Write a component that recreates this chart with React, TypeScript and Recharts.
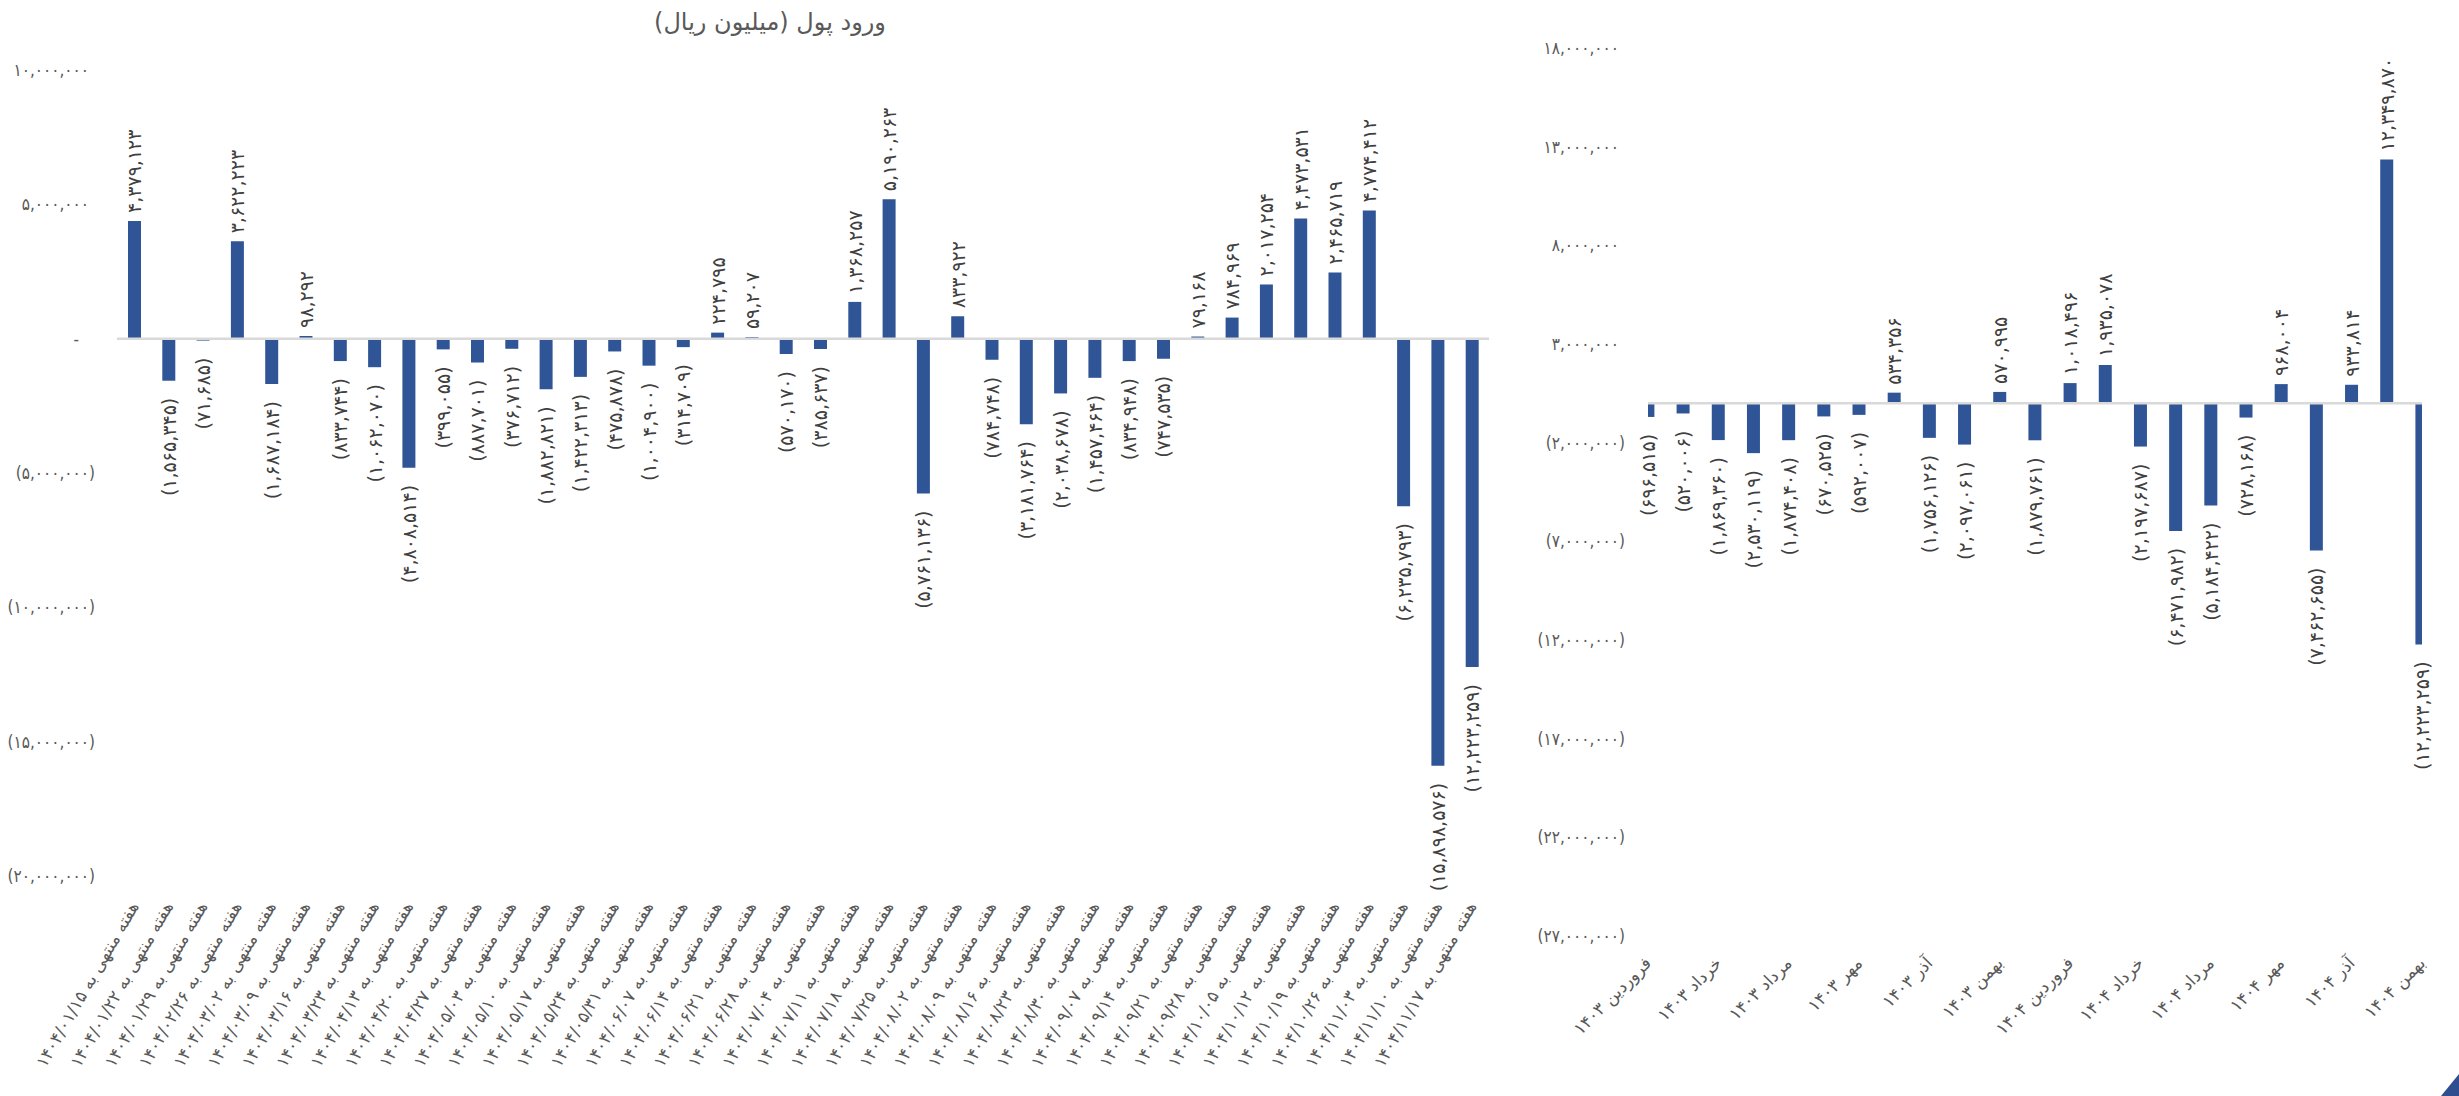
import React from 'react';
import { BarChart, Bar, XAxis, YAxis, LabelList, ReferenceLine } from 'recharts';

// weekly money inflow (million rials), week ending dates
const weekEnds = [
  '1404/01/15', '1404/01/22', '1404/01/29', '1404/02/26', '1404/03/02', '1404/03/09', '1404/03/16', '1404/03/23',
  '1404/04/13', '1404/04/20', '1404/04/27', '1404/05/03', '1404/05/10', '1404/05/17', '1404/05/24', '1404/05/31',
  '1404/06/07', '1404/06/14', '1404/06/21', '1404/06/28', '1404/07/04', '1404/07/11', '1404/07/18', '1404/07/25',
  '1404/08/02', '1404/08/09', '1404/08/16', '1404/08/23', '1404/08/30', '1404/09/07', '1404/09/14', '1404/09/21',
  '1404/09/28', '1404/10/05', '1404/10/12', '1404/10/19', '1404/10/26', '1404/11/03', '1404/11/10', '1404/11/17',
];
const weeklyInflow = [
  4379123, -1565345, -71685, 3622223, -1687184, 98292, -833744, -1062070,
  -4808514, -399055, -887701, -376712, -1882821, -1422313, -475878, -1004900,
  -314709, 224795, 59207, -570170, -385637, 1368257, 5190263, -5761136,
  833922, -784748, -3181764, -2038678, -1457464, -834948, -747535, 79168,
  784969, 2017254, 4473531, 2465719, 4774412, -6235793, -15898576, -12223259,
];
const weeklyTicks = [-20000000, -15000000, -10000000, -5000000, 0, 5000000, 10000000];

// monthly money inflow
const months = [
  'فروردین 1403', 'اردیبهشت 1403', 'خرداد 1403', 'تیر 1403', 'مرداد 1403', 'شهریور 1403', 'مهر 1403', 'آبان 1403',
  'آذر 1403', 'دی 1403', 'بهمن 1403', 'اسفند 1403', 'فروردین 1404', 'اردیبهشت 1404', 'خرداد 1404', 'تیر 1404',
  'مرداد 1404', 'شهریور 1404', 'مهر 1404', 'آبان 1404', 'آذر 1404', 'دی 1404', 'بهمن 1404',
];
const monthlyInflow = [
  -696515, -520006, -1869360, -2530119, -1874408, -670525, -592007, 534356,
  -1756126, -2097061, 570995, -1879761, 1018496, 1935078, -2197687, -6471982,
  -5184422, -728168, 968004, -7462655, 933814, 12349870, -12223259,
];
const monthlyTicks = [-27000000, -22000000, -17000000, -12000000, -7000000, -2000000, 3000000, 8000000, 13000000, 18000000];
const monthTickIdx = [0, 2, 4, 6, 8, 10, 12, 14, 16, 18, 20, 22];

const BLUE = '#2F5597';
const FONT = '"DejaVu Sans", sans-serif';
const NARROW = '"DejaVu Sans Condensed", "DejaVu Sans", sans-serif';

const fa = (s: string) => s.replace(/[0-9]/g, (d) => String.fromCharCode(0x06f0 + Number(d)));
const fmt = (v: number) => {
  if (v === 0) return '-';
  const s = fa(Math.abs(v).toLocaleString('en-US'));
  return v < 0 ? `(${s})` : s;
};

const weekData = weekEnds.map((d, i) => ({ label: 'هفته منتهی به ' + fa(d), value: weeklyInflow[i] }));
const monthData = months.map((m, i) => ({ idx: i, label: fa(m), value: monthlyInflow[i] }));

const YTick = ({ x, y, payload }: any) => {
  const v = payload.value;
  const dx = v > 0 ? -6 : v === 0 ? -16 : 0;
  return (
    <text x={x + dx} y={y} textAnchor="end" dominantBaseline="central" fontSize={17} fill="#595959" fontFamily={NARROW}>
      {fmt(v)}
    </text>
  );
};

const makeXTick = (angle: number, getLabel: (v: any) => string) => ({ x, y, payload }: any) => (
  <text
    x={x}
    y={y}
    transform={`rotate(${angle} ${x} ${y})`}
    textAnchor="end"
    dominantBaseline="central"
    fontSize={17}
    fill="#595959"
    fontFamily={FONT}
  >
    {getLabel(payload.value)}
  </text>
);

const WeekTick = makeXTick(-60, (v) => v);
const MonthTick = makeXTick(-45, (v) => monthData[v]?.label ?? '');

const ValueLabel = (props: any) => {
  const { x, y, width, height, value } = props;
  const cx = Number(x) + Number(width) / 2;
  const top = Math.min(Number(y), Number(y) + Number(height));
  const bottom = Math.max(Number(y), Number(y) + Number(height));
  const pos = value >= 0;
  const ay = pos ? top - 8 : bottom + 17;
  return (
    <text
      x={cx}
      y={ay}
      transform={`rotate(-90 ${cx} ${ay})`}
      textAnchor={pos ? 'start' : 'end'}
      dominantBaseline="central"
      fontSize={19}
      fill="#404040"
      fontFamily={FONT}
    >
      {fmt(value)}
    </text>
  );
};

export default function App() {
  return (
    <div style={{ position: 'absolute', left: 0, top: 0, width: 2459, height: 1096, background: '#fff', overflow: 'hidden' }}>
      <div
        style={{
          position: 'absolute', left: 20, top: 8, width: 1500, textAlign: 'center',
          direction: 'rtl', fontSize: 24, color: '#595959', fontFamily: FONT,
        }}
      >
        ورود پول (میلیون ریال)
      </div>

      <div style={{ position: 'absolute', left: 0, top: 0 }}>
        <BarChart width={1500} height={1096} data={weekData} margin={{ top: 70, right: 11, bottom: 0, left: 0 }} barSize={13}>
          <XAxis dataKey="label" height={220} interval={0} tickLine={false} axisLine={false} tickSize={0} tickMargin={27} tick={<WeekTick />} />
          <YAxis
            width={117}
            domain={[-20000000, 10000000]}
            ticks={weeklyTicks}
            interval={0}
            tickLine={false}
            axisLine={false}
            tickSize={0}
            tickMargin={22}
            tick={<YTick />}
          />
          <Bar dataKey="value" fill={BLUE} isAnimationActive={false}>
            <LabelList dataKey="value" content={<ValueLabel />} />
          </Bar>
          <ReferenceLine y={0} stroke="#D9D9D9" strokeWidth={2.5} />
        </BarChart>
      </div>

      <div style={{ position: 'absolute', left: 1500, top: 0 }}>
        <BarChart width={959} height={1096} data={monthData} margin={{ top: 48, right: 37, bottom: 0, left: 0 }} barSize={13}>
          <XAxis
            type="number"
            dataKey="idx"
            domain={[0, 22]}
            ticks={monthTickIdx}
            allowDataOverflow
            interval={0}
            height={160}
            tickLine={false}
            axisLine={false}
            tickSize={0}
            tickMargin={24}
            tick={<MonthTick />}
          />
          <YAxis
            width={148}
            domain={[-27000000, 18000000]}
            ticks={monthlyTicks}
            interval={0}
            tickLine={false}
            axisLine={false}
            tickSize={0}
            tickMargin={23}
            tick={<YTick />}
          />
          <Bar dataKey="value" fill={BLUE} isAnimationActive={false}>
            <LabelList dataKey="value" content={<ValueLabel />} />
          </Bar>
          <ReferenceLine y={0} stroke="#D9D9D9" strokeWidth={2.5} />
        </BarChart>
      </div>

      <svg style={{ position: 'absolute', left: 2435, top: 1072 }} width={24} height={24}>
        <polygon points="24,2 24,24 6,24" fill="#2F4E8F" />
      </svg>
    </div>
  );
}
